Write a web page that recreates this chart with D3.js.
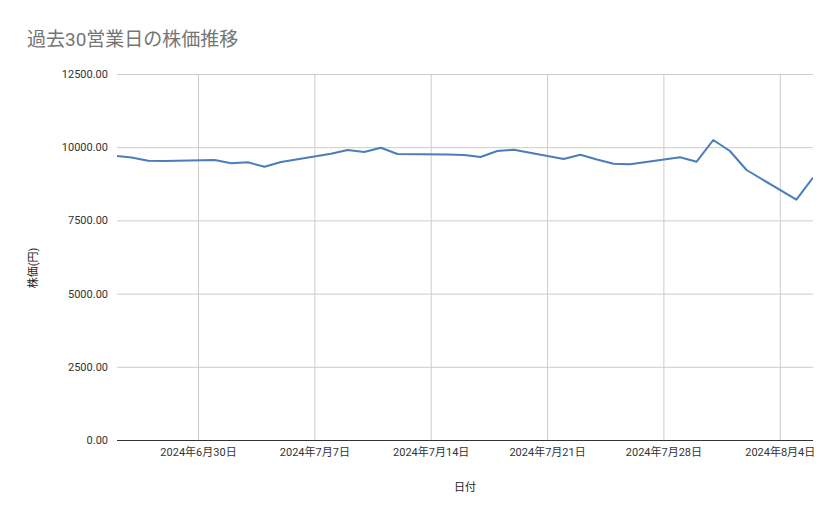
<!DOCTYPE html>
<html><head><meta charset="utf-8">
<script src="https://cdn.jsdelivr.net/npm/d3@7"></script>
<style>body{margin:0;background:#fff}text{font-family:Roboto,"Noto Sans CJK JP",sans-serif}</style>
</head><body><svg id="c" width="839" height="519"></svg>
<script>
const dates=["2024-06-25","2024-06-26","2024-06-27","2024-06-28","2024-07-01","2024-07-02","2024-07-03","2024-07-04","2024-07-05","2024-07-08","2024-07-09","2024-07-10","2024-07-11","2024-07-12","2024-07-15","2024-07-16","2024-07-17","2024-07-18","2024-07-19","2024-07-22","2024-07-23","2024-07-24","2024-07-25","2024-07-26","2024-07-29","2024-07-30","2024-07-31","2024-08-01","2024-08-02","2024-08-05","2024-08-06"];
const prices=[9710,9650,9540,9530,9560,9450,9485,9330,9495,9778,9904,9836,9983,9768,9750,9730,9665,9870,9915,9597,9744,9580,9437,9416,9655,9505,10246,9870,9221,8207,8958];
const yTicks=[0,2500,5000,7500,10000,12500];
const xTicks=["2024-06-30","2024-07-07","2024-07-14","2024-07-21","2024-07-28","2024-08-04"];
const xTickLabels=["2024年6月30日","2024年7月7日","2024年7月14日","2024年7月21日","2024年7月28日","2024年8月4日"];
const P=d3.timeParse("%Y-%m-%d");
const svg=d3.select("#c");
const L=117,R=813,T=74,B=440;
const x=d3.scaleTime().domain([P("2024-06-30"),P("2024-08-06")]).range([198,813]);
const y=d3.scaleLinear().domain([0,12500]).range([B,T]);
svg.append("defs").append("clipPath").attr("id","cp").append("rect").attr("x",L).attr("y",0).attr("width",R-L).attr("height",519);
const gy=svg.append("g").attr("transform",`translate(${L},0)`).call(d3.axisLeft(y).tickValues(yTicks).tickSize(-(R-L)).tickFormat(d3.format(".2f")).tickPadding(9));
gy.select(".domain").remove();
gy.selectAll("line").attr("stroke","#cccccc");
gy.selectAll("text").attr("font-size",11).attr("fill","#333");
const gx=svg.append("g").attr("transform",`translate(0,${B})`).call(d3.axisBottom(x).tickValues(xTicks.map(P)).tickSize(-(B-T)).tickFormat((d,i)=>xTickLabels[i]).tickPadding(8));
gx.select(".domain").remove();
gx.selectAll("line").attr("stroke","#cccccc");
gx.selectAll("text").attr("font-size",11).attr("fill","#333");
svg.append("line").attr("x1",L).attr("x2",R).attr("y1",B+0.5).attr("y2",B+0.5).attr("stroke","#333");
svg.append("path").datum(dates.map((d,i)=>[P(d),prices[i]])).attr("clip-path","url(#cp)")
 .attr("fill","none").attr("stroke","#4a7ebb").attr("stroke-width",2).attr("stroke-linejoin","round")
 .attr("d",d3.line().x(d=>x(d[0])).y(d=>y(d[1])));
svg.append("text").attr("x",27).attr("y",46).attr("font-size",19).attr("fill","#757575").text("過去30営業日の株価推移");
svg.append("text").attr("transform","translate(37,268) rotate(-90)").attr("text-anchor","middle").attr("font-size",11).attr("fill","#222").text("株価(円)");
svg.append("text").attr("x",465).attr("y",491).attr("text-anchor","middle").attr("font-size",11).attr("fill","#222").text("日付");
</script></body></html>
